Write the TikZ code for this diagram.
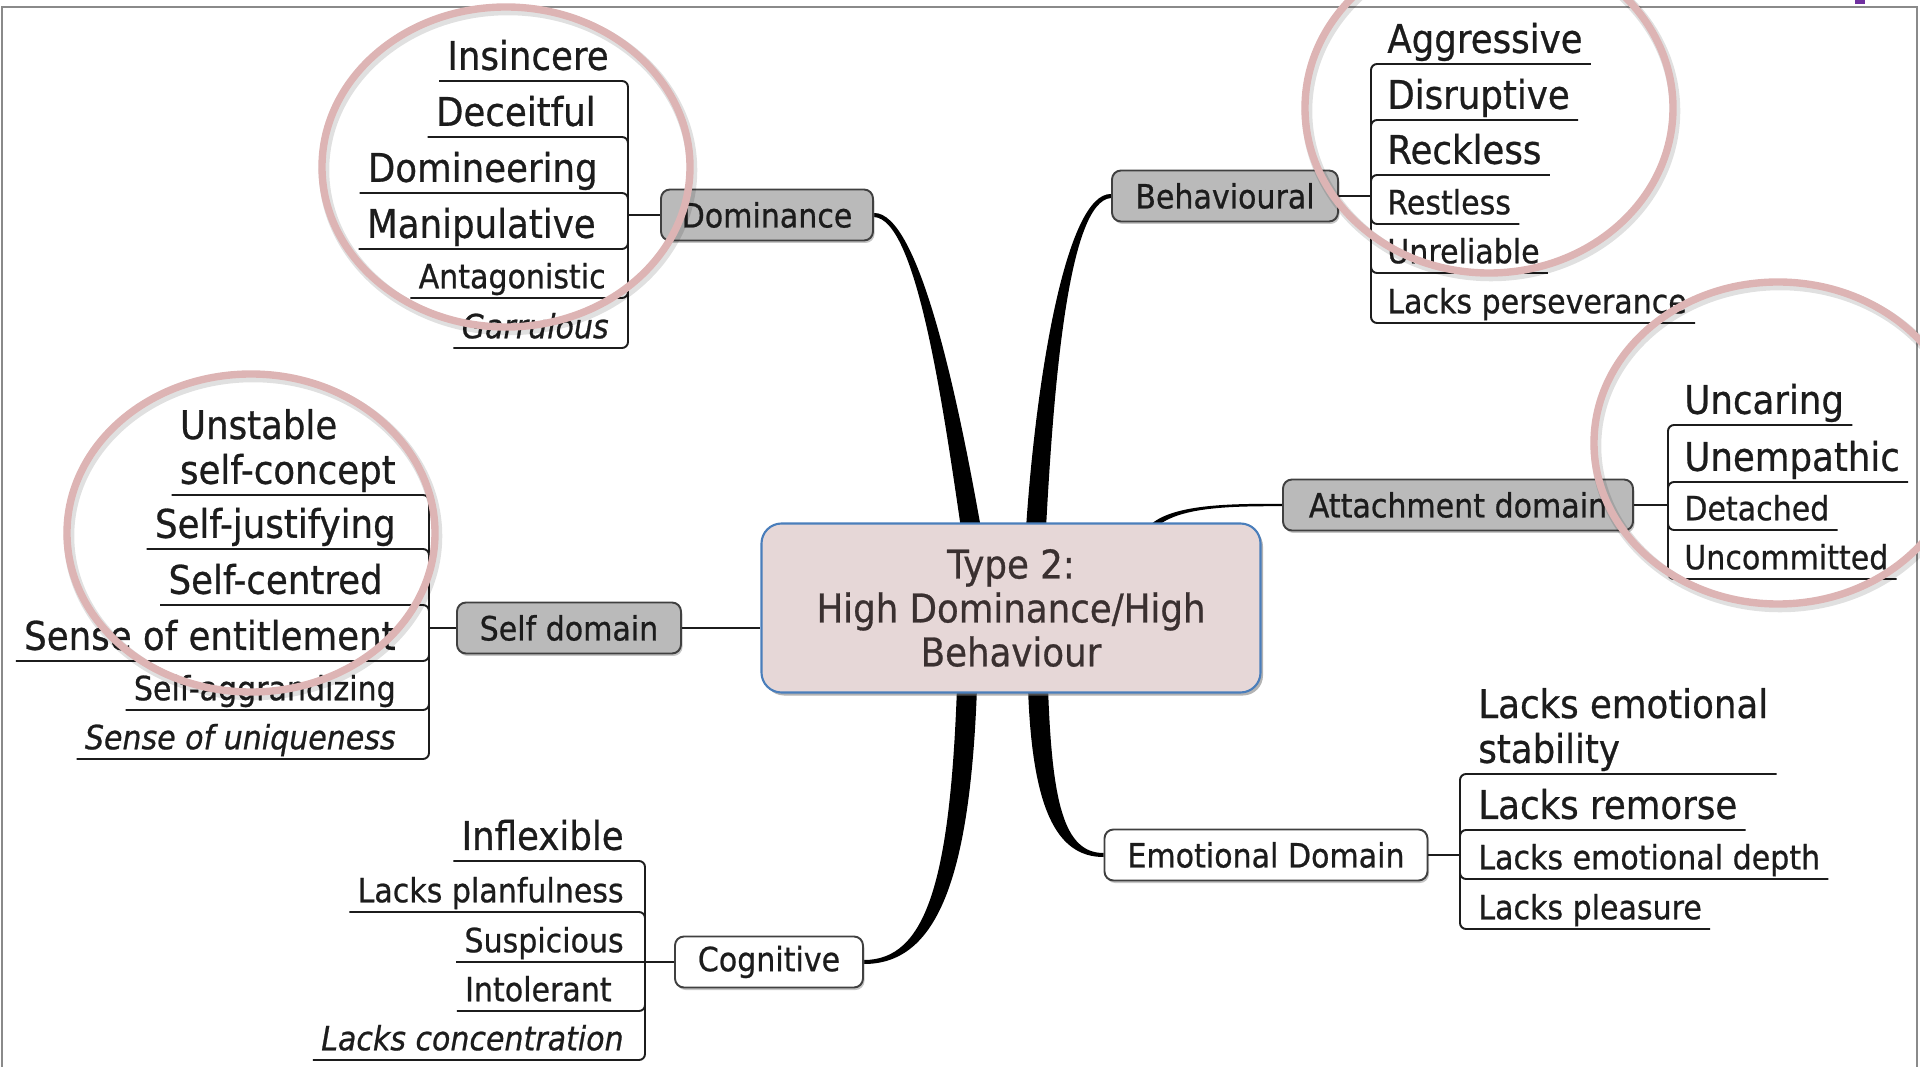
\documentclass[tikz,border=0pt]{standalone}
\usepackage{fontspec}
\setmainfont{DejaVu Sans}[FakeStretch=0.9, FakeBold=0.7]
\usetikzlibrary{positioning,calc,backgrounds,shadows}

\definecolor{corefill}{HTML}{E6D7D7}
\definecolor{coreline}{HTML}{4A7EBB}
\definecolor{coretext}{HTML}{3A3030}
\definecolor{boxgray}{HTML}{BABABA}
\definecolor{ringpink}{HTML}{DDB4B4}
\definecolor{framegray}{HTML}{8A8A8A}
\definecolor{markviolet}{HTML}{7030A0}
\definecolor{ink}{HTML}{1C1C1C}

\begin{document}
\begin{tikzpicture}[
	x=0.2mm, y=-0.2mm,
	core/.style={
		rectangle,
		rounded corners=4mm,
		draw=coreline,
		fill=corefill,
		line width=1.2pt,
		text=coretext,
		align=center,
		minimum width=99.8mm,
		minimum height=33.8mm,
		font=\fontsize{22.5}{25}\selectfont,
		drop shadow={shadow xshift=.5mm, shadow yshift=-.6mm, opacity=.6}
	},
	branch/.style={
		rectangle,
		rounded corners=1.8mm,
		draw=black!75,
		fill=boxgray,
		line width=1.1pt,
		text=ink,
		minimum height=10.2mm,
		font=\fontsize{19}{22}\selectfont,
		drop shadow={shadow xshift=.3mm, shadow yshift=-.5mm, opacity=.45}
	},
	plainbranch/.style={branch, fill=white},
	leaf/.style={% underlined labels
		inner xsep=1.6mm,
		inner ysep=.4mm,
		text=ink,
		text depth=5pt,
		align=left,
		font=\fontsize{22.5}{25.5}\selectfont
	},
	leafs/.style={leaf, text depth=4.2pt, font=\fontsize{19}{22}\selectfont},
	twig/.style={line width=1.1pt, rounded corners=1.2mm, ink},
	stem/.style={line width=1.6pt, ink},
	limb/.style={fill=black},
	ring/.style={draw=ringpink, line width=4.2pt},
	ringshade/.style={draw=black, opacity=.12, line width=6pt},
]
	\useasboundingbox (0,0) rectangle (1920,1067);
	\draw [framegray, line width=1.2pt] (2,1067) -- (2,7) -- (1917,7) -- (1917,1067);
	\fill [markviolet] (1855,0) rectangle (1865,4);

	\node [core] (core) at (1011,608) {Type 2:\\High Dominance/High\\Behaviour};

	\node [branch, minimum width=42.4mm] (dom) at (767,215) {Dominance};
	\node [branch, minimum width=45.2mm] (beh) at (1225,196) {Behavioural};
	\node [branch, minimum width=70mm] (att) at (1458,505) {Attachment domain};
	\node [branch, minimum width=44.8mm] (self) at (569,628) {Self domain};
	\node [plainbranch, minimum width=64.6mm] (emo) at (1266,855) {Emotional Domain};
	\node [plainbranch, minimum width=37.6mm] (cog) at (769,962) {Cognitive};

	\coordinate (domJ) at (628,215);
	\coordinate (behJ) at (1371,196);
	\coordinate (attJ) at (1668,505);
	\coordinate (emoJ) at (1460,855);
	\coordinate (selfJ) at (429,628);
	\coordinate (cogJ) at (645,962);

	% thick limbs behind the boxes
	\begin{pgfonlayer}{background}
	\fill [limb] ($(dom.east)+(0,2)$) .. controls +(42,2) and +(-19,-130) .. ($(core.north)+(-50,6)$) -- ($(core.north)+(-30,6)$) .. controls +(-23,-130) and +(45,-1) .. ($(dom.east)+(0,-2)$) -- cycle;
	\fill [limb] ($(beh.west)+(0,2)$) .. controls +(-42,3) and +(8,-150) .. ($(core.north)+(35,6)$) -- ($(core.north)+(15,6)$) .. controls +(10,-150) and +(-45,-1) .. ($(beh.west)+(0,-2)$) -- cycle;
	\fill [limb] ($(core.south)+(-54,-6)$) .. controls +(-7,194) and +(62,0) .. ($(cog.east)+(0,-2)$) -- ($(cog.east)+(0,2)$) .. controls +(72,0) and +(-7,194) .. ($(core.south)+(-34,-6)$) -- cycle;
	\fill [limb] ($(core.south)+(17,-6)$) .. controls +(4,119) and +(-48,0) .. ($(emo.west)+(0,2)$) -- ($(emo.west)+(0,-2)$) .. controls +(-40,0) and +(4,114) .. ($(core.south)+(37,-6)$) -- cycle;
	\fill [limb] ($(core.north)+(136,6)$) .. controls +(20,-25) and +(-50,0) .. ($(att.west)+(0,-1.2)$) -- ($(att.west)+(0,1.2)$) .. controls +(-50,0) and +(22,-22) .. ($(core.north)+(144,6)$) -- cycle;
	\end{pgfonlayer}
	\draw [stem] (self.east) -- ($(core.west)+(0,20)$);

	\draw [twig] (dom.west) -- (domJ);
	\draw [twig] (beh.east) -- (behJ);
	\draw [twig] (att.east) -- (attJ);
	\draw [twig] (emo.east) -- (emoJ);
	\draw [twig] (self.west) -- (selfJ);
	\draw [twig] (cog.west) -- (cogJ);

	% Dominance
	\node [leaf, anchor=south east] (insinc) at (617,81) {Insincere};
	\node [leaf, anchor=south east] (deceit) at (604,137) {Deceitful};
	\node [leaf, anchor=south east] (domin) at (606,193) {Domineering};
	\node [leaf, anchor=south east] (manip) at (604,249) {Manipulative};
	\node [leafs, anchor=south east] (antag) at (614,298) {Antagonistic};
	\node [leafs, anchor=south east] (garr) at (617,348) {\itshape Garrulous};
	\draw [twig] (insinc.south west) -| (domJ);
	\draw [twig] (deceit.south west) -| (domJ);
	\draw [twig] (domin.south west) -| (domJ);
	\draw [twig] (manip.south west) -| (domJ);
	\draw [twig] (antag.south west) -| (domJ);
	\draw [twig] (garr.south west) -| (domJ);

	% Behavioural
	\node [leaf, anchor=south west] (aggr) at (1379,64) {Aggressive};
	\node [leaf, anchor=south west] (disr) at (1379,120) {Disruptive};
	\node [leaf, anchor=south west] (reck) at (1379,175) {Reckless};
	\node [leafs, anchor=south west] (restl) at (1379,224) {Restless};
	\node [leafs, anchor=south west] (unrel) at (1379,273) {Unreliable};
	\node [leafs, anchor=south west] (persev) at (1379,323) {Lacks perseverance};
	\draw [twig] (aggr.south east) -| (behJ);
	\draw [twig] (disr.south east) -| (behJ);
	\draw [twig] (reck.south east) -| (behJ);
	\draw [twig] (restl.south east) -| (behJ);
	\draw [twig] (unrel.south east) -| (behJ);
	\draw [twig] (persev.south east) -| (behJ);

	% Attachment domain
	\node [leaf, anchor=south west] (uncar) at (1676,425) {Uncaring};
	\node [leaf, anchor=south west] (unemp) at (1676,482) {Unempathic};
	\node [leafs, anchor=south west] (detach) at (1676,530) {Detached};
	\node [leafs, anchor=south west] (uncomm) at (1676,579) {Uncommitted};
	\draw [twig] (uncar.south east) -| (attJ);
	\draw [twig] (unemp.south east) -| (attJ);
	\draw [twig] (detach.south east) -| (attJ);
	\draw [twig] (uncomm.south east) -| (attJ);

	% Emotional Domain
	\node [leaf, anchor=south west] (stabil) at (1470,774) {Lacks emotional\\stability};
	\node [leaf, anchor=south west] (remor) at (1470,830) {Lacks remorse};
	\node [leafs, anchor=south west] (depth) at (1470,879) {Lacks emotional depth};
	\node [leafs, anchor=south west] (pleas) at (1470,929) {Lacks pleasure};
	\draw [twig] (stabil.south east) -| (emoJ);
	\draw [twig] (remor.south east) -| (emoJ);
	\draw [twig] (depth.south east) -| (emoJ);
	\draw [twig] (pleas.south east) -| (emoJ);

	% Self domain
	\node [leaf, anchor=south east] (unstab) at (404,495) {Unstable\\self-concept};
	\node [leaf, anchor=south east] (justif) at (404,549) {Self-justifying};
	\node [leaf, anchor=south east] (centred) at (391,605) {Self-centred};
	\node [leaf, anchor=south east] (entitl) at (404,661) {Sense of entitlement};
	\node [leafs, anchor=south east] (aggrand) at (404,710) {Self-aggrandizing};
	\node [leafs, anchor=south east] (unique) at (404,759) {\itshape Sense of uniqueness};
	\draw [twig] (unstab.south west) -| (selfJ);
	\draw [twig] (justif.south west) -| (selfJ);
	\draw [twig] (centred.south west) -| (selfJ);
	\draw [twig] (entitl.south west) -| (selfJ);
	\draw [twig] (aggrand.south west) -| (selfJ);
	\draw [twig] (unique.south west) -| (selfJ);

	% Cognitive
	\node [leaf, anchor=south east] (inflex) at (632,861) {Inflexible};
	\node [leafs, anchor=south east] (planf) at (632,912) {Lacks planfulness};
	\node [leafs, anchor=south east] (suspic) at (632,962) {Suspicious};
	\node [leafs, anchor=south east] (intol) at (620,1011) {Intolerant};
	\node [leafs, anchor=south east] (concen) at (632,1060) {\itshape Lacks concentration};
	\draw [twig] (inflex.south west) -| (cogJ);
	\draw [twig] (planf.south west) -| (cogJ);
	\draw [twig] (suspic.south west) -- (cogJ);
	\draw [twig] (intol.south west) -| (cogJ);
	\draw [twig] (concen.south west) -| (cogJ);

	% highlight rings
	\draw [ringshade] (508,170) ellipse [x radius=36.8mm, y radius=32mm];
	\draw [ringshade] (1491,111) ellipse [x radius=36.8mm, y radius=33mm];
	\draw [ringshade] (1780,446) ellipse [x radius=36.8mm, y radius=32.2mm];
	\draw [ringshade] (253,536) ellipse [x radius=36.8mm, y radius=31.8mm];
	\draw [ring] (506,167) ellipse [x radius=36.8mm, y radius=32mm];
	\draw [ring] (1489,108) ellipse [x radius=36.8mm, y radius=33mm];
	\draw [ring] (1778,443) ellipse [x radius=36.8mm, y radius=32.2mm];
	\draw [ring] (251,533) ellipse [x radius=36.8mm, y radius=31.8mm];
\end{tikzpicture}
\end{document}
